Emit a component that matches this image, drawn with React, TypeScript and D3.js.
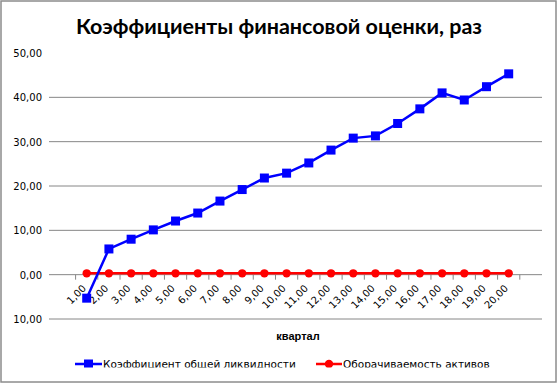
import React from "react";
import * as d3 from "d3";

const quarters = ["1,00","2,00","3,00","4,00","5,00","6,00","7,00","8,00","9,00","10,00","11,00","12,00","13,00","14,00","15,00","16,00","17,00","18,00","19,00","20,00"];
const liquidity = [-5.3, 5.8, 8.0, 10.1, 12.1, 13.9, 16.6, 19.2, 21.8, 22.9, 25.2, 28.1, 30.8, 31.3, 34.1, 37.4, 41.0, 39.4, 42.4, 45.3];
const turnover = [0.3, 0.3, 0.3, 0.3, 0.3, 0.3, 0.3, 0.3, 0.3, 0.3, 0.3, 0.3, 0.3, 0.3, 0.3, 0.3, 0.3, 0.3, 0.3, 0.3];
const yTicks = [-10, 0, 10, 20, 30, 40, 50];
const yTickLabels = ["10,00", "0,00", "10,00", "20,00", "30,00", "40,00", "50,00"];
const title = "Коэффициенты финансовой оценки, раз";
const xTitle = "квартал";
const seriesNames = ["Коэффициент общей ликвидности", "Оборачиваемость активов"];

export default function App() {
  if (typeof document !== "undefined") document.body.style.margin = "0";
  const W = 558, H = 384;
  const y = d3.scaleLinear().domain([-10, 50]).range([319, 53]);
  const x = d3.scaleBand<string>().domain(quarters).range([75.6, 519.8]);
  const cx = (q: string) => (x(q) as number) + x.bandwidth() / 2;
  const line = d3.line<number>().x((_, i) => cx(quarters[i])).y((v) => y(v));
  const gridL = 49, gridR = 542;
  const tickFont = "'DejaVu Sans', sans-serif";
  return (
    <svg width={W} height={H} style={{ position: "absolute", left: 0, top: 0, background: "#fff" }}>
      <defs>
        <clipPath id="legclip"><rect x={0} y={0} width={W} height={367.5} /></clipPath>
      </defs>
      <rect x={1} y={1} width={555} height={381} fill="#fff" stroke="#8c8c8c" strokeWidth={1.5} />
      <text x={279} y={34} textAnchor="middle" fontFamily="Lato, 'Open Sans', sans-serif" fontWeight="bold" fontSize={21.5} fill="#000">{title}</text>
      {yTicks.map((t, i) => (
        <g key={t}>
          {t !== 50 && t !== 0 && (
            <line x1={gridL} x2={gridR} y1={y(t)} y2={y(t)} stroke="#868686" strokeWidth={1} />
          )}
          <text x={42} y={y(t) + 4} textAnchor="end" fontFamily={tickFont} fontSize={10} fill="#000">{yTickLabels[i]}</text>
        </g>
      ))}
      <line x1={gridL} x2={gridR} y1={y(0)} y2={y(0)} stroke="#868686" strokeWidth={1} />
      {quarters.concat(["end"]).map((q, i) => {
        const xx = i < quarters.length ? (x(q) as number) : 519.8;
        return <line key={"tk" + i} x1={xx} x2={xx} y1={y(0)} y2={y(0) + 5} stroke="#868686" strokeWidth={1} />;
      })}
      {quarters.map((q) => (
        <text key={"xl" + q} transform={`translate(${cx(q)},${289}) rotate(-45)`} textAnchor="end" fontFamily={tickFont} fontSize={10} fill="#000">{q}</text>
      ))}
      <text x={298} y={340} textAnchor="middle" fontFamily="'Liberation Sans', Arial, sans-serif" fontWeight="bold" fontSize={11} fill="#000">{xTitle}</text>
      <path d={line(turnover) || ""} fill="none" stroke="#ff0000" strokeWidth={2.5} />
      {turnover.map((v, i) => (
        <circle key={"r" + i} cx={cx(quarters[i])} cy={y(v)} r={4.2} fill="#ff0000" />
      ))}
      <path d={line(liquidity) || ""} fill="none" stroke="#0000ff" strokeWidth={2.5} />
      {liquidity.map((v, i) => (
        <rect key={"b" + i} x={cx(quarters[i]) - 4.5} y={y(v) - 4.5} width={9} height={9} fill="#0000ff" />
      ))}
      <g clipPath="url(#legclip)">
        <line x1={75} x2={102} y1={364} y2={364} stroke="#0000ff" strokeWidth={2.5} />
        <rect x={88.5 - 4.5} y={364 - 4.5} width={9} height={9} fill="#0000ff" />
        <text x={103} y={368} fontFamily={tickFont} fontSize={10.5} fill="#000">{seriesNames[0]}</text>
        <line x1={316} x2={342} y1={364} y2={364} stroke="#ff0000" strokeWidth={2.5} />
        <circle cx={329} cy={364} r={4.2} fill="#ff0000" />
        <text x={343} y={368} fontFamily={tickFont} fontSize={10.5} fill="#000">{seriesNames[1]}</text>
      </g>
    </svg>
  );
}
